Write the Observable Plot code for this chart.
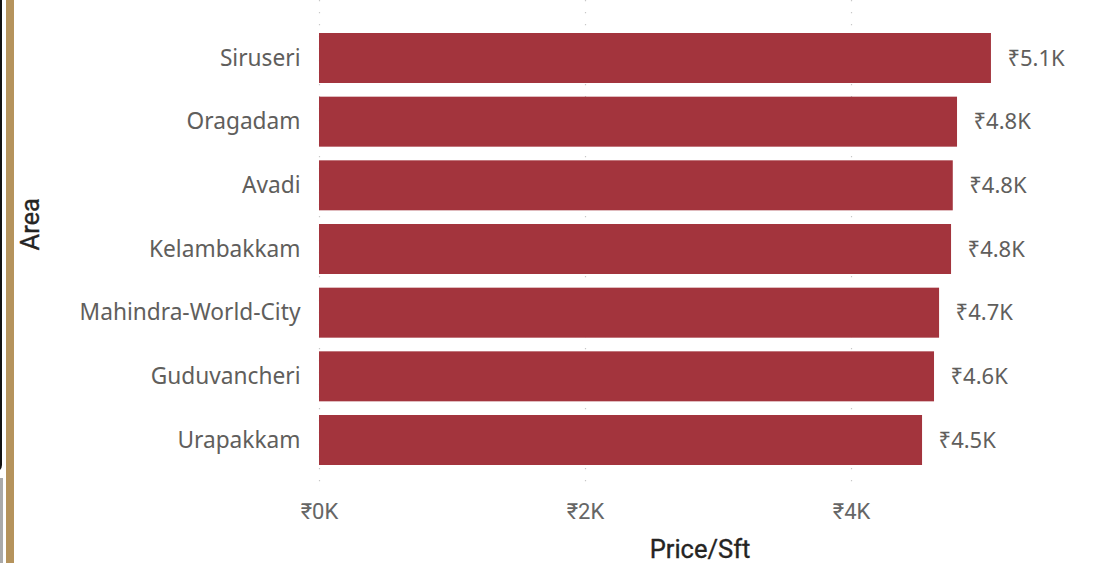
<!DOCTYPE html>
<html>
<head>
<meta charset="utf-8">
<script src="https://cdn.jsdelivr.net/npm/d3@7"></script>
<script src="https://cdn.jsdelivr.net/npm/@observablehq/plot@0.6"></script>
<style>
  html, body { margin: 0; padding: 0; background: #fff; }
  #wrap { position: relative; width: 1104px; height: 563px; overflow: hidden; background: #fff; }
  #chart { position: absolute; left: 0; top: 0; }
  .deco { position: absolute; }
</style>
</head>
<body>
<div id="wrap">
  <div class="deco" style="left:-12px;top:-12px;width:10px;height:480px;border:2px solid #111;border-radius:7px;"></div>
  <div class="deco" style="left:0;top:478px;width:3px;height:90px;background:#aaaaaa;"></div>
  <div class="deco" style="left:6px;top:0;width:8px;height:563px;background:#b5935c;"></div>
  <div id="chart"></div>
</div>
<script>
const areas = ["Siruseri", "Oragadam", "Avadi", "Kelambakkam", "Mahindra-World-City", "Guduvancheri", "Urapakkam"];
const prices = [5052, 4797, 4765, 4752, 4662, 4624, 4534];
const xTicks = [0, 2000, 4000];
const xTickLabels = ["₹0K", "₹2K", "₹4K"];
const xTitle = "Price/Sft";
const yTitle = "Area";

const data = areas.map((a, i) => ({area: a, price: prices[i]}));
const fmtVal = v => "₹" + (v / 1000).toFixed(1) + "K";
const labelFont = "'Noto Sans', 'DejaVu Sans', sans-serif";
const dinFont = "Roboto, 'Noto Sans', 'DejaVu Sans', sans-serif";

const chart = Plot.plot({
  width: 1104,
  height: 563,
  marginLeft: 319,
  marginRight: 0,
  marginTop: 0,
  marginBottom: 73,
  style: {background: "transparent", overflow: "visible"},
  x: {domain: [0, 5902]},
  y: {domain: areas, range: [19.33, 478.67], padding: 0.2147, round: false},
  marks: [
    Plot.ruleX(xTicks, {stroke: "#c8c8c8", strokeWidth: 1.2, strokeDasharray: "1.2,10.8"}),
    Plot.barX(data, {y: "area", x: "price", fill: "#a3343d"}),
    Plot.text(data, {y: "area", x: "price", text: d => fmtVal(d.price), dx: 16, textAnchor: "start",
      fill: "#605e5c", fontSize: 22, fontFamily: labelFont}),
    Plot.axisY({tickSize: 0, tickPadding: 19, fontSize: 22.7, label: null,
      fill: "#605e5c", fontFamily: labelFont}),
    Plot.axisX(xTicks, {tickSize: 0, tickPadding: 13, fontSize: 22, label: null,
      tickFormat: d => xTickLabels[xTicks.indexOf(d)],
      fill: "#666666", fontFamily: dinFont}),
    Plot.text([xTitle], {frameAnchor: "bottom", dx: -12, dy: 59, lineAnchor: "middle",
      fontSize: 25.5, fontWeight: 400, fill: "#252423", stroke: "#252423", strokeWidth: 0.35, fontFamily: dinFont}),
    Plot.text([yTitle], {frameAnchor: "left", dx: -289, dy: 5, rotate: -90, lineAnchor: "middle",
      fontSize: 25.5, fontWeight: 400, fill: "#252423", stroke: "#252423", strokeWidth: 0.35, fontFamily: dinFont})
  ]
});
document.getElementById("chart").appendChild(chart);
</script>
</body>
</html>
